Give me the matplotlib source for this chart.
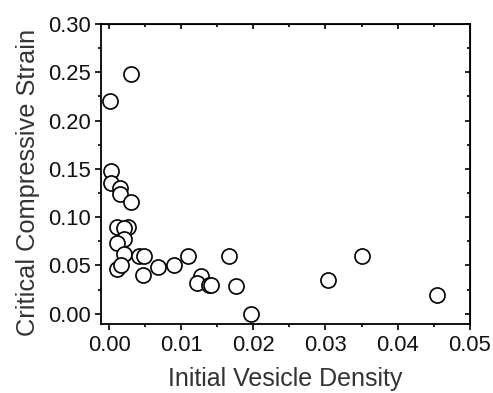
import matplotlib
matplotlib.use("Agg")
import matplotlib.pyplot as plt
from matplotlib.ticker import MultipleLocator

plt.rcParams['font.family'] = ['Liberation Sans', 'DejaVu Sans']

density = [0.0030, 0.0001, 0.0003, 0.0003, 0.0015, 0.0015, 0.0030,
           0.0011, 0.0027, 0.0021, 0.0021, 0.0011, 0.0021, 0.0011,
           0.0016, 0.0041, 0.0049, 0.0047, 0.0068, 0.0090, 0.0110,
           0.0127, 0.0122, 0.0138, 0.0141, 0.0166, 0.0176, 0.0197,
           0.0304, 0.0351, 0.0454]
strain = [0.248, 0.220, 0.148, 0.135, 0.130, 0.1235, 0.116,
          0.090, 0.090, 0.089, 0.0776, 0.0728, 0.062, 0.0459,
          0.0503, 0.060, 0.060, 0.040, 0.048, 0.0503, 0.060,
          0.039, 0.032, 0.0296, 0.0296, 0.060, 0.0286, 0.000,
          0.0345, 0.060, 0.0197]

fig = plt.figure(figsize=(4.93, 3.93), dpi=100)
ax = fig.add_axes([0.205, 0.176, 0.748, 0.763])
ax.scatter(density, strain, s=118, facecolors='white', edgecolors='black',
           linewidths=1.2, zorder=3)
ax.set_xlim(-0.0011, 0.05)
ax.set_ylim(-0.0104, 0.30)
ax.xaxis.set_major_locator(MultipleLocator(0.01))
ax.xaxis.set_minor_locator(MultipleLocator(0.005))
ax.yaxis.set_major_locator(MultipleLocator(0.05))
ax.yaxis.set_minor_locator(MultipleLocator(0.025))
ax.xaxis.set_major_formatter(matplotlib.ticker.FormatStrFormatter('%.2f'))
ax.yaxis.set_major_formatter(matplotlib.ticker.FormatStrFormatter('%.2f'))
for s in ax.spines.values():
    s.set_linewidth(1.3)
ax.tick_params(which='both', direction='out', top=False, right=False, width=1.2,
               labelsize=15.8, labelcolor='#111111')
ax.tick_params(which='major', length=4.3)
ax.tick_params(which='minor', length=2.5)
ax.tick_params(axis='x', which='major', pad=3.5)
ax.tick_params(axis='y', which='major', pad=3)
ax2 = ax.secondary_xaxis('top')
ax2.xaxis.set_major_locator(MultipleLocator(0.01))
ax2.xaxis.set_minor_locator(MultipleLocator(0.005))
ax2.tick_params(which='both', direction='in', labeltop=False, width=1.2)
ax2.tick_params(which='major', length=3.5)
ax2.tick_params(which='minor', length=2.5)
ay2 = ax.secondary_yaxis('right')
ay2.yaxis.set_major_locator(MultipleLocator(0.05))
ay2.yaxis.set_minor_locator(MultipleLocator(0.025))
ay2.tick_params(which='both', direction='in', labelright=False, width=1.2)
ay2.tick_params(which='major', length=3.5)
ay2.tick_params(which='minor', length=2.5)
ax.set_xlabel('Initial Vesicle Density', fontsize=18, labelpad=8.5, color='#333333')
ax.set_ylabel('Critical Compressive Strain', fontsize=18.3, labelpad=6, color='#333333')
ax.yaxis.label.set_y(0.473)
fig.savefig('out.png', dpi=100)
